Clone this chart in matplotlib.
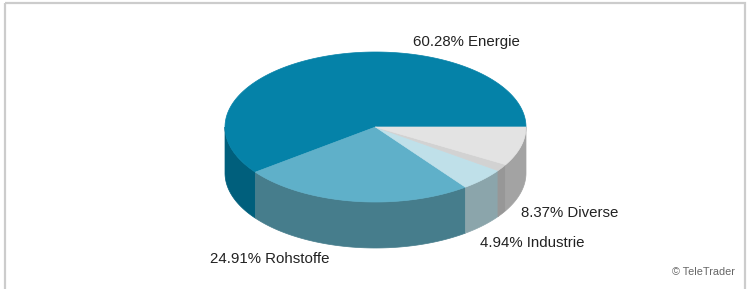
import numpy as np
import matplotlib
matplotlib.use('Agg')
import matplotlib.pyplot as plt
from matplotlib.patches import Polygon, Rectangle

# slice data (counterclockwise from 3 o'clock)
names = ['Energie', 'Rohstoffe', 'Industrie', '', 'Diverse']
shares = [60.28, 24.91, 4.94, 1.50, 8.37]
top_colors = ['#0582a8', '#5fb0c9', '#bfe0e9', '#d2d2d2', '#e3e3e3']
side_colors = ['#005f7c', '#467d8c', '#8ba5ab', '#979797', '#a3a3a3']

CX, CY = 375.5, 127.0
RX, RY = 150.5, 75.0
DEPTH = 46.0


def ell(t, dy=0.0):
    return np.column_stack([CX + RX * np.cos(t), CY - RY * np.sin(t) + dy])


fig = plt.figure(figsize=(7.51, 2.89), dpi=100)
ax = fig.add_axes([0, 0, 1, 1])
ax.set_xlim(0, 751)
ax.set_ylim(289, 0)
ax.axis('off')

# frame
ax.add_patch(Rectangle((5, 3), 740, 300, fill=False, ec='#cccccc', lw=1.6))

total = sum(shares)
bounds = np.concatenate([[0], np.cumsum(shares)]) / total * 2 * np.pi

# side walls (front half only: angles between pi and 2*pi)
for i in range(len(shares)):
    a = max(bounds[i], np.pi)
    b = min(bounds[i + 1], 2 * np.pi)
    if b <= a:
        continue
    t = np.linspace(a, b, 80)
    pts = np.vstack([ell(t), ell(t[::-1], DEPTH)])
    ax.add_patch(Polygon(pts, closed=True, fc=side_colors[i], ec=side_colors[i], lw=0.5))

# top faces
for i in range(len(shares)):
    t = np.linspace(bounds[i], bounds[i + 1], 200)
    pts = np.vstack([[CX, CY], ell(t)])
    ax.add_patch(Polygon(pts, closed=True, fc=top_colors[i], ec=top_colors[i], lw=0.5))

font = dict(family='Liberation Sans', fontsize=10.8, color='#222222')
ax.text(413, 42, f'{shares[0]:.2f}% {names[0]}', ha='left', va='center', **font)
ax.text(210, 259, f'{shares[1]:.2f}% {names[1]}', ha='left', va='center', **font)
ax.text(480, 243, f'{shares[2]:.2f}% {names[2]}', ha='left', va='center', **font)
ax.text(521, 213, f'{shares[4]:.2f}% {names[4]}', ha='left', va='center', **font)

ax.text(735, 272, '\u00a9 TeleTrader', ha='right', va='center',
        family='Liberation Sans', fontsize=7.8, color='#666666')

fig.savefig('out.png', dpi=100)
